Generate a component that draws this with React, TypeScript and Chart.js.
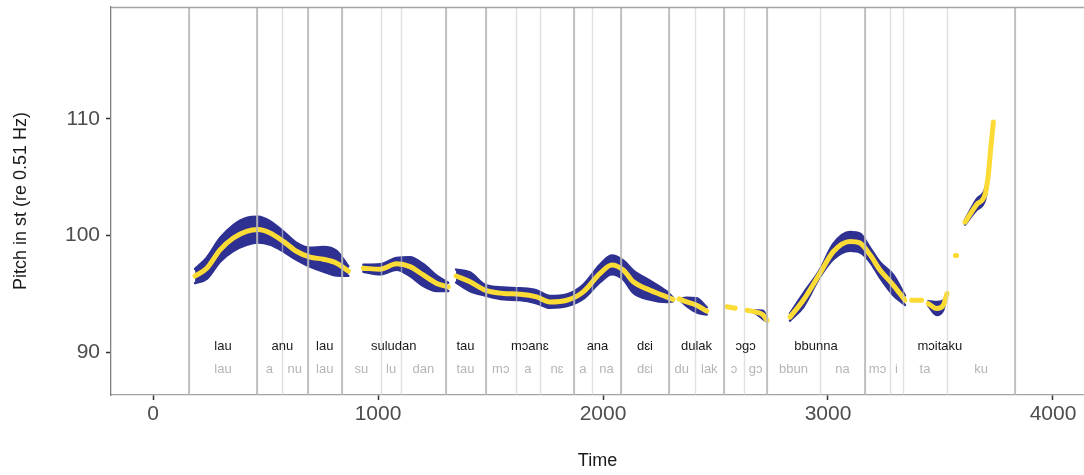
import React, { useEffect, useRef } from 'react';
import { Chart, registerables } from 'chart.js';

Chart.register(...registerables);

// ---- data (time in ms, pitch in semitones re 0.51 Hz) ----
const timeMs: (number | null)[] = [
  187, 239, 298, 357, 416, 468, 520, 579, 639, 698, 757, 816, 868, null,
  935, 1009, 1083, 1142, 1201, 1261, 1312, null,
  1347, 1409, 1476, 1557, 1631, 1705, 1764, 1839, 1912, 1987, 2039, 2090, 2135, 2209, 2283, 2311, null,
  2338, 2372, 2416, 2461, null,
  2551, 2587, null,
  2640, 2684, 2711, 2729, null,
  2831, 2890, 2964, 3024, 3098, 3142, 3187, 3231, 3290, 3342, null,
  3372, 3416, null,
  3446, 3483, 3512, 3529, null,
  3566, 3572, null,
  3609, 3661, 3698, 3712, 3723, 3735,
];

const pitchSt: (number | null)[] = [
  96.55, 97.22, 98.79, 99.8, 100.37, 100.52, 100.23, 99.51, 98.65, 98.16, 97.99, 97.65, 96.98, null,
  97.22, 97.13, 97.59, 97.35, 96.64, 95.92, 95.63, null,
  96.55, 96.06, 95.34, 95.06, 95.0, 94.77, 94.34, 94.48, 95.2, 96.78, 97.5, 97.07, 96.06, 95.34, 94.77, 94.55, null,
  94.6, 94.34, 94.05, 93.56, null,
  93.92, 93.79, null,
  93.62, 93.45, 93.23, 92.76, null,
  93.04, 94.48, 96.78, 98.65, 99.51, 99.37, 98.36, 97.07, 95.78, 94.48, null,
  94.48, 94.48, null,
  94.2, 93.77, 94.05, 95.06, null,
  98.3, 98.3, null,
  101.15, 102.67, 103.53, 105.11, 107.41, 109.72,
];

// half-width of the blue (intensity) band, in semitones
const bandSt: (number | null)[] = [
  0.6, 0.9, 1.0, 1.1, 1.15, 1.1, 1.0, 0.85, 0.72, 0.8, 1.05, 1.05, 0.4, null,
  0.3, 0.43, 0.5, 0.8, 0.93, 0.65, 0.35, null,
  0.55, 0.8, 0.45, 0.5, 0.5, 0.55, 0.5, 0.5, 0.6, 0.75, 0.8, 0.8, 0.95, 0.8, 0.45, 0.15, null,
  0, 0.35, 0.6, 0.3, null,
  0, 0, null,
  0, 0.15, 0.35, 0.1, null,
  0.3, 0.57, 0.3, 0.65, 0.8, 0.8, 0.6, 0.65, 0.86, 0.4, null,
  0, 0, null,
  0.2, 0.55, 0.4, 0, null,
  0, 0, null,
  0.2, 0.45, 0.45, 0.2, 0, 0,
];

const words = ['lau', 'anu', 'lau', 'suludan', 'tau', 'mɔanɛ', 'ana', 'dɛi', 'dulak', 'ɔgɔ', 'bbunna', 'mɔitaku'];
const wordBounds = [160, 462, 687, 840, 1300, 1478, 1871, 2080, 2293, 2538, 2729, 3164, 3831];

const syllables = ['lau', 'a', 'nu', 'lau', 'su', 'lu', 'dan', 'tau', 'mɔ', 'a', 'nɛ', 'a', 'na', 'dɛi', 'du', 'lak', 'ɔ', 'gɔ', 'bbun', 'na', 'mɔ', 'i', 'ta', 'ku'];
const syllableBounds = [160, 462, 573, 687, 840, 1013, 1104, 1300, 1478, 1613, 1720, 1871, 1951, 2080, 2293, 2407, 2538, 2627, 2729, 2964, 3164, 3276, 3333, 3529, 3831];

const xTicks = [0, 1000, 2000, 3000, 4000];
const yTicks = [90, 100, 110];
const xRange = [-186.7, 4137.8];
const yRange = [86.38, 119.55];
const wordLabelLevel = 90.5;
const syllableLabelLevel = 88.6;

const BLUE = '#2e3192';
const YELLOW = '#fcdc34';
const FONT = "'Liberation Sans', 'DejaVu Sans', Arial, sans-serif";

export default function App() {
  const ref = useRef<HTMLCanvasElement | null>(null);

  useEffect(() => {
    const canvas = ref.current;
    if (!canvas) return;

    const pts = (vals: (number | null)[]) =>
      timeMs.map((t, i) => ({ x: t, y: vals[i] }));
    const upper = pitchSt.map((v, i) => (v == null ? null : v + (bandSt[i] as number)));
    const lower = pitchSt.map((v, i) => (v == null ? null : v - (bandSt[i] as number)));

    const annot = {
      id: 'annot',
      afterDatasetsDraw(chart: any) {
        const { ctx, chartArea } = chart;
        const xs = chart.scales.x;
        const ys = chart.scales.y;
        const { top, bottom, left, right } = chartArea;
        ctx.save();
        ctx.beginPath();
        ctx.rect(left, top, right - left, bottom - top);
        ctx.clip();
        // syllable boundaries
        ctx.strokeStyle = 'rgba(205,205,205,0.6)';
        ctx.lineWidth = 1.5;
        syllableBounds.forEach((t) => {
          const x = Math.round(xs.getPixelForValue(t)) + 0.5;
          ctx.beginPath();
          ctx.moveTo(x, top);
          ctx.lineTo(x, bottom);
          ctx.stroke();
        });
        // word boundaries
        ctx.strokeStyle = 'rgba(180,180,180,0.75)';
        ctx.lineWidth = 2;
        wordBounds.forEach((t) => {
          const x = Math.round(xs.getPixelForValue(t));
          ctx.beginPath();
          ctx.moveTo(x, top);
          ctx.lineTo(x, bottom);
          ctx.stroke();
        });
        // labels
        ctx.textAlign = 'center';
        ctx.textBaseline = 'middle';
        ctx.font = `13px ${FONT}`;
        ctx.fillStyle = '#1a1a1a';
        const wy = ys.getPixelForValue(wordLabelLevel);
        words.forEach((w, i) => {
          const cx = xs.getPixelForValue((wordBounds[i] + wordBounds[i + 1]) / 2);
          ctx.fillText(w, cx, wy);
        });
        ctx.fillStyle = '#b5b5b5';
        const sy = ys.getPixelForValue(syllableLabelLevel);
        syllables.forEach((s, i) => {
          const cx = xs.getPixelForValue((syllableBounds[i] + syllableBounds[i + 1]) / 2);
          ctx.fillText(s, cx, sy);
        });
        ctx.restore();
        // panel border (top)
        ctx.save();
        ctx.strokeStyle = '#a3a3a3';
        ctx.lineWidth = 1.3;
        ctx.beginPath();
        ctx.moveTo(left, top + 0.5);
        ctx.lineTo(right, top + 0.5);
        ctx.stroke();
        ctx.restore();
      },
    };

    const common = {
      pointRadius: 0,
      cubicInterpolationMode: 'monotone',
      spanGaps: false,
      borderCapStyle: 'round',
      borderJoinStyle: 'round',
    };

    const chart = new Chart(canvas, {
      type: 'line',
      data: {
        datasets: [
          {
            ...common,
            data: pts(upper),
            borderColor: BLUE,
            backgroundColor: BLUE,
            borderWidth: 2.5,
            fill: '+1',
            order: 2,
          },
          {
            ...common,
            data: pts(lower),
            borderColor: BLUE,
            backgroundColor: BLUE,
            borderWidth: 2.5,
            fill: false,
            order: 3,
          },
          {
            ...common,
            data: pts(pitchSt),
            borderColor: YELLOW,
            borderWidth: 5,
            fill: false,
            order: 0,
          },
        ],
      } as any,
      options: {
        animation: false,
        responsive: false,
        events: [],
        layout: { padding: { left: 0, top: 7, right: 0, bottom: 0 } },
        plugins: { legend: { display: false }, tooltip: { enabled: false } },
        scales: {
          x: {
            type: 'linear',
            min: xRange[0],
            max: xRange[1],
            afterBuildTicks: (s: any) => {
              s.ticks = xTicks.map((v) => ({ value: v }));
            },
            afterFit: (s: any) => {
              s.height = 80;
              s.paddingLeft = 0;
              s.paddingRight = 0;
            },
            grid: {
              drawOnChartArea: false,
              drawTicks: true,
              tickLength: 5,
              tickColor: '#333333',
              tickWidth: 1.5,
            },
            border: { display: true, color: '#a3a3a3', width: 1.3 },
            ticks: {
              color: '#4d4d4d',
              font: { family: FONT, size: 21 },
              padding: 2,
              maxRotation: 0,
              autoSkip: false,
              callback: (v: any) => String(v),
            },
            title: {
              display: true,
              text: 'Time',
              color: '#1a1a1a',
              font: { family: FONT, size: 18 },
              padding: { top: 0, bottom: 3 },
            },
          },
          y: {
            type: 'linear',
            min: yRange[0],
            max: yRange[1],
            afterBuildTicks: (s: any) => {
              s.ticks = yTicks.map((v) => ({ value: v }));
            },
            afterFit: (s: any) => {
              s.width = 111;
              s.paddingTop = 0;
              s.paddingBottom = 0;
            },
            grid: {
              drawOnChartArea: false,
              drawTicks: true,
              tickLength: 5,
              tickColor: '#333333',
              tickWidth: 1.5,
            },
            border: { display: true, color: '#7f7f7f', width: 1.3 },
            ticks: {
              color: '#4d4d4d',
              font: { family: FONT, size: 21 },
              padding: 6,
              callback: (v: any) => String(v),
            },
            title: {
              display: true,
              text: 'Pitch in st (re 0.51 Hz)',
              color: '#1a1a1a',
              font: { family: FONT, size: 18 },
              padding: { top: 10, bottom: 0 },
            },
          },
        },
      } as any,
      plugins: [annot],
    });

    return () => chart.destroy();
  }, []);

  return (
    <div style={{ position: 'fixed', left: 0, top: 0, width: 1084, height: 475, background: '#fff' }}>
      <canvas ref={ref} width={1084} height={475} style={{ display: 'block' }} />
    </div>
  );
}
